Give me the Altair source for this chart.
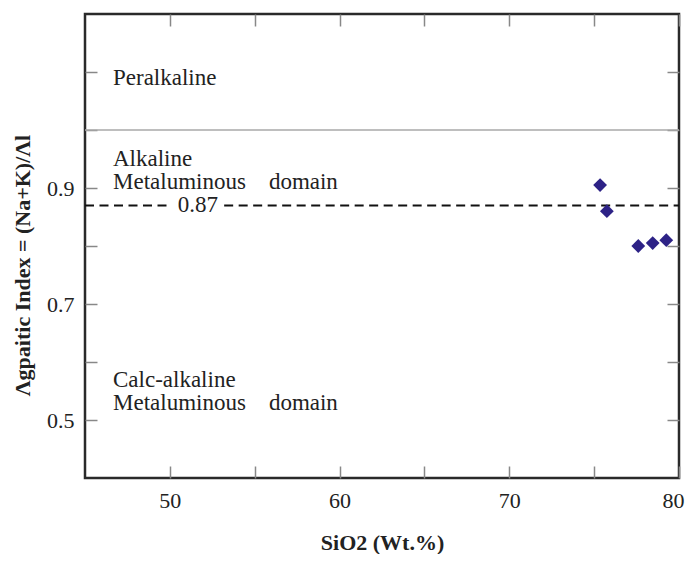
import altair as alt
import pandas as pd

# ---- data ----
sio2 = [75.35, 75.75, 77.6, 78.45, 79.25]
agpaitic = [0.905, 0.86, 0.80, 0.805, 0.81]

x_ticks = [50, 55, 60, 65, 70, 75, 80]
y_ticks = [0.5, 0.6, 0.7, 0.8, 0.9, 1.0, 1.1]
y_labeled = ["0.5", "0.7", "0.9"]

peralkaline_limit = [1.0]
dash_x = [45.0, 53.2]
dash_x2 = [50.1, 80.0]
dash_level = [0.87, 0.87]
dash_label = ["0.87"]
dash_label_x = [51.65]

region_text = ["Peralkaline", "Alkaline", "Metaluminous\u00a0\u00a0\u00a0\u00a0domain",
               "Calc-alkaline", "Metaluminous\u00a0\u00a0\u00a0\u00a0domain"]
region_x = [46.65, 46.65, 46.65, 46.65, 46.65]
region_y = [1.078, 0.938, 0.898, 0.557, 0.517]

X_DOMAIN = [45, 80]
Y_DOMAIN = [0.4, 1.2]
FONT = "Liberation Serif"
INK = "#222222"

pts = pd.DataFrame({"sio2": sio2, "ai": agpaitic})
xs = alt.Scale(domain=X_DOMAIN, nice=False, zero=False)
ys = alt.Scale(domain=Y_DOMAIN, nice=False, zero=False)

# main points with bottom/left labelled axes
points = alt.Chart(pts).mark_point(
    shape="diamond", filled=True, size=190, color="#2d2286", opacity=1
).encode(
    x=alt.X("sio2:Q", scale=xs, axis=alt.Axis(
        orient="bottom", values=x_ticks, offset=-12, tickSize=12, tickColor="#888",
        tickWidth=1.5, domain=False, grid=False, labelPadding=12, labelFlush=True,
        labelFlushOffset=5, labelOverlap=False,
        labelExpr="datum.value % 10 == 0 ? datum.label : ''",
        title="SiO2 (Wt.%)", titleY=76, titleBaseline="middle")),
    y=alt.Y("ai:Q", scale=ys, axis=alt.Axis(
        orient="left", values=y_ticks, offset=-12, tickSize=12, tickColor="#888",
        tickWidth=1.5, domain=False, grid=False, labelPadding=11, format=".1f",
        labelFlush=False, labelOverlap=False,
        labelExpr="indexof(['0.5','0.7','0.9'], datum.label) >= 0 ? datum.label : ''",
        title="\u039bgpaitic Index = (Na+K)/\u039bl", titleX=-75, titleY=251,
        titleBaseline="middle", titleAngle=-90)),
)

# tick-only top/right axes
mirror = alt.Chart(pts).mark_point(opacity=0).encode(
    x=alt.X("sio2:Q", scale=xs, axis=alt.Axis(
        orient="top", values=x_ticks, offset=-12, tickSize=12, tickColor="#888",
        tickWidth=1.5, domain=False, grid=False, labels=False, title=None)),
    y=alt.Y("ai:Q", scale=ys, axis=alt.Axis(
        orient="right", values=y_ticks, offset=-12, tickSize=12, tickColor="#888",
        tickWidth=1.5, domain=False, grid=False, labels=False, title=None)),
)

peral = alt.Chart(pd.DataFrame({"y": peralkaline_limit})).mark_rule(
    color="#a8a8a8", strokeWidth=1.6
).encode(y=alt.Y("y:Q", scale=ys, axis=None))

dashed = alt.Chart(pd.DataFrame({"x": dash_x, "x2": dash_x2, "y": dash_level})).mark_rule(
    color="#111111", strokeWidth=2, strokeDash=[9, 5.5]
).encode(
    x=alt.X("x:Q", scale=xs, axis=None), x2="x2:Q",
    y=alt.Y("y:Q", scale=ys, axis=None),
)

dash_txt = alt.Chart(pd.DataFrame({"x": dash_label_x, "y": [dash_level[0]], "t": dash_label})).mark_text(
    font=FONT, fontSize=23, color=INK, align="center", baseline="middle"
).encode(
    x=alt.X("x:Q", scale=xs, axis=None),
    y=alt.Y("y:Q", scale=ys, axis=None),
    text="t:N",
)

regions = alt.Chart(pd.DataFrame({"x": region_x, "y": region_y, "t": region_text})).mark_text(
    font=FONT, fontSize=23, color=INK, align="left", baseline="alphabetic"
).encode(
    x=alt.X("x:Q", scale=xs, axis=None),
    y=alt.Y("y:Q", scale=ys, axis=None),
    text="t:N",
)

chart = alt.layer(peral, dashed, dash_txt, regions, mirror, points).resolve_axis(
    x="independent", y="independent"
).properties(
    width=594, height=464,
    autosize=alt.AutoSizeParams(type="none"),
    padding={"left": 77, "top": 6, "right": 6, "bottom": 76},
).configure_view(
    stroke="#2a2a2a", strokeWidth=2.5
).configure_axis(
    labelFont=FONT, labelFontSize=22, labelColor=INK,
    titleFont=FONT, titleFontSize=22, titleFontWeight="bold", titleColor=INK,
)

chart.save("out.html", embed_options={"renderer": "svg", "actions": False})
